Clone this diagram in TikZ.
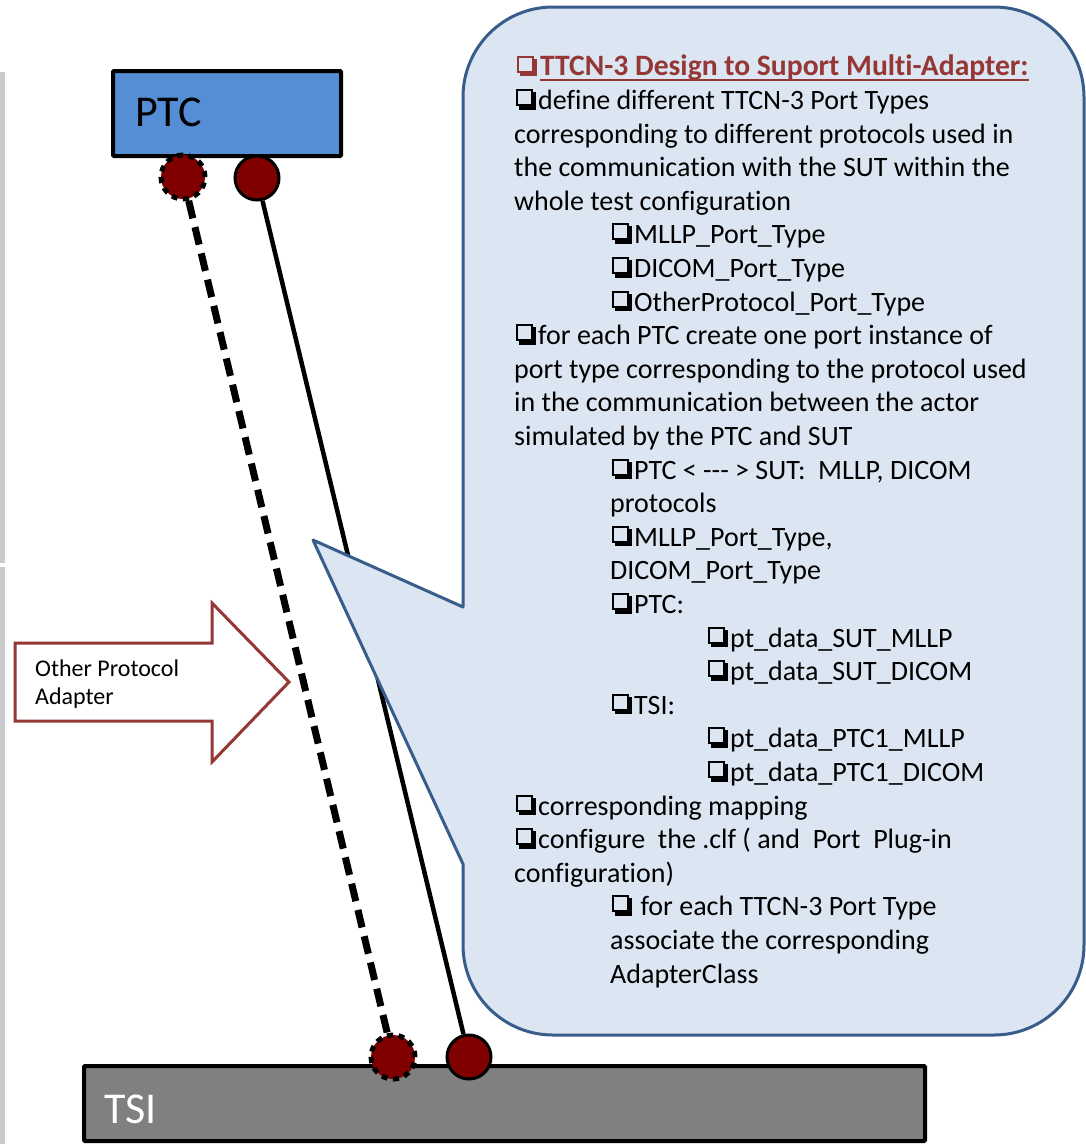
\documentclass[tikz,border=0pt]{standalone}
\usepackage{fontspec}
\setmainfont{Carlito}[Ligatures={NoCommon}]
\definecolor{ptcblue}{HTML}{558ED5}
\definecolor{portred}{HTML}{800000}
\definecolor{adapterred}{HTML}{953735}
\definecolor{notefill}{HTML}{DCE6F2}
\definecolor{noteline}{HTML}{385D8A}
\definecolor{tsigray}{HTML}{808080}
\definecolor{edgegray}{HTML}{C9CACC}
% shadowed check box bullet, built from rules so it takes the text colour
\newcommand\cb{%
  \rlap{\hspace{2pt}\raisebox{3.5pt}{\rule{17pt}{2pt}}}%
  \rlap{\hspace{2pt}\raisebox{18.5pt}{\rule{17pt}{2pt}}}%
  \rlap{\hspace{2pt}\raisebox{3.5pt}{\rule{2pt}{17pt}}}%
  \rlap{\hspace{17pt}\raisebox{3.5pt}{\rule{2pt}{17pt}}}%
  \rlap{\hspace{19pt}\rule{3pt}{17.5pt}}%
  \rlap{\hspace{5pt}\rule{17pt}{3.5pt}}%
  \hspace{24pt}}
\begin{document}
\begin{tikzpicture}[x=1pt,y=-1pt,
  boxline/.style={draw=black, line width=4pt, rounded corners=1pt},
  port/.style={circle, fill=portred, draw=black, line width=3pt, minimum size=44pt, inner sep=0pt},
  vport/.style={port, line width=5pt, dash pattern=on 6pt off 5.5pt},
  link/.style={line width=4.5pt},
  vlink/.style={line width=7pt, dash pattern=on 18pt off 9pt},
  ln/.style={anchor=base west, inner sep=0pt, font=\fontsize{28}{33.6}\selectfont},
  big/.style={anchor=base west, inner sep=0pt, font=\fontsize{44}{50}\selectfont},
  adtext/.style={anchor=base west, inner sep=0pt, font=\fontsize{24}{28}\selectfont},
  note/.style={fill=notefill, draw=noteline, line width=3pt, line join=round},
  adapter/.style={fill=white, draw=adapterred, line width=3pt}]
\useasboundingbox (0,0) rectangle (1086,1144);

% left margin strip
\fill[edgegray] (0,72) rectangle (5,563);
\fill[edgegray] (0,567) rectangle (5,1144);

% component boxes
\node[boxline, fill=tsigray, minimum width=841pt, minimum height=75pt] (tsi) at (504.5,1103.5) {};
\node[big, text=white] (tsilbl) at (104,1123) {TSI};
\node[boxline, fill=ptcblue, minimum width=228pt, minimum height=85pt] (ptc) at (227,113.5) {};
\node[big] (ptclbl) at (135,126) {PTC};

% ports
\node[vport] (p1) at (183,177) {};
\node[port] (p2) at (257,178) {};
\node[vport] (t1) at (393,1057) {};
\node[port] (t2) at (469,1057) {};

% port connections
\draw[vlink] (p1) -- (t1);
\draw[link] (p2) -- (t2);

% adapter arrow
\draw[adapter] (15,643) -- (212,643) -- (212,603) -- (289,682) -- (212,762) -- (212,721) -- (15,721) -- cycle;
\node[adtext] (adlbl1) at (35,676) {Other Protocol};
\node[adtext] (adlbl2) at (35,704) {Adapter};

% callout
\draw[note] (463,864) -- (463,945) arc[start angle=180, end angle=90, radius=90]
  -- (994,1035) arc[start angle=90, end angle=0, radius=90]
  -- (1084,97) arc[start angle=0, end angle=-90, radius=90]
  -- (553,7) arc[start angle=-90, end angle=-180, radius=90]
  -- (463,607) -- (313,540) -- cycle;

% callout text
\node[ln, text=adapterred] (l1) at (514,76) {\cb};
\node[ln, text=adapterred, font=\fontsize{29.6}{33.6}\selectfont\bfseries] (title) at (540,75) {TTCN-3 Design to Suport Multi-Adapter:};
\draw[adapterred, line width=2.5pt] ([yshift=-5pt]title.base west) -- ([yshift=-5pt]title.base east);
\node[ln] (l2) at (514,109.5) {\cb define different TTCN-3 Port Types};
\node[ln] (l3) at (514,143.1) {corresponding to different protocols used in};
\node[ln] (l4) at (514,176.7) {the communication with the SUT within the};
\node[ln] (l5) at (514,210.3) {whole test configuration};
\node[ln] (l6) at (610,243.9) {\cb MLLP\_Port\_Type};
\node[ln] (l7) at (610,277.5) {\cb DICOM\_Port\_Type};
\node[ln] (l8) at (610,311.1) {\cb OtherProtocol\_Port\_Type};
\node[ln] (l9) at (514,344.7) {\cb for each PTC create one port instance of};
\node[ln] (l10) at (514,378.3) {port type corresponding to the protocol used};
\node[ln] (l11) at (514,411.9) {in the communication between the actor};
\node[ln] (l12) at (514,445.5) {simulated by the PTC and SUT};
\node[ln] (l13) at (610,479.1) {\cb PTC < -{}-{}- > SUT:\ \ MLLP, DICOM};
\node[ln] (l14) at (610,512.7) {protocols};
\node[ln] (l15) at (610,546.3) {\cb MLLP\_Port\_Type,};
\node[ln] (l16) at (610,579.9) {DICOM\_Port\_Type};
\node[ln] (l17) at (610,613.5) {\cb PTC:};
\node[ln] (l18) at (706,647.1) {\cb pt\_data\_SUT\_MLLP};
\node[ln] (l19) at (706,680.7) {\cb pt\_data\_SUT\_DICOM};
\node[ln] (l20) at (610,714.3) {\cb TSI:};
\node[ln] (l21) at (706,747.9) {\cb pt\_data\_PTC1\_MLLP};
\node[ln] (l22) at (706,781.5) {\cb pt\_data\_PTC1\_DICOM};
\node[ln] (l23) at (514,815.1) {\cb corresponding mapping};
\node[ln] (l24) at (514,848.7) {\cb configure\ \ the .clf ( and\ \ Port\ \ Plug-in};
\node[ln] (l25) at (514,882.3) {configuration)};
\node[ln] (l26) at (610,915.9) {\cb\ for each TTCN-3 Port Type};
\node[ln] (l27) at (610,949.5) {associate the corresponding};
\node[ln] (l28) at (610,983.1) {AdapterClass};
\end{tikzpicture}
\end{document}
